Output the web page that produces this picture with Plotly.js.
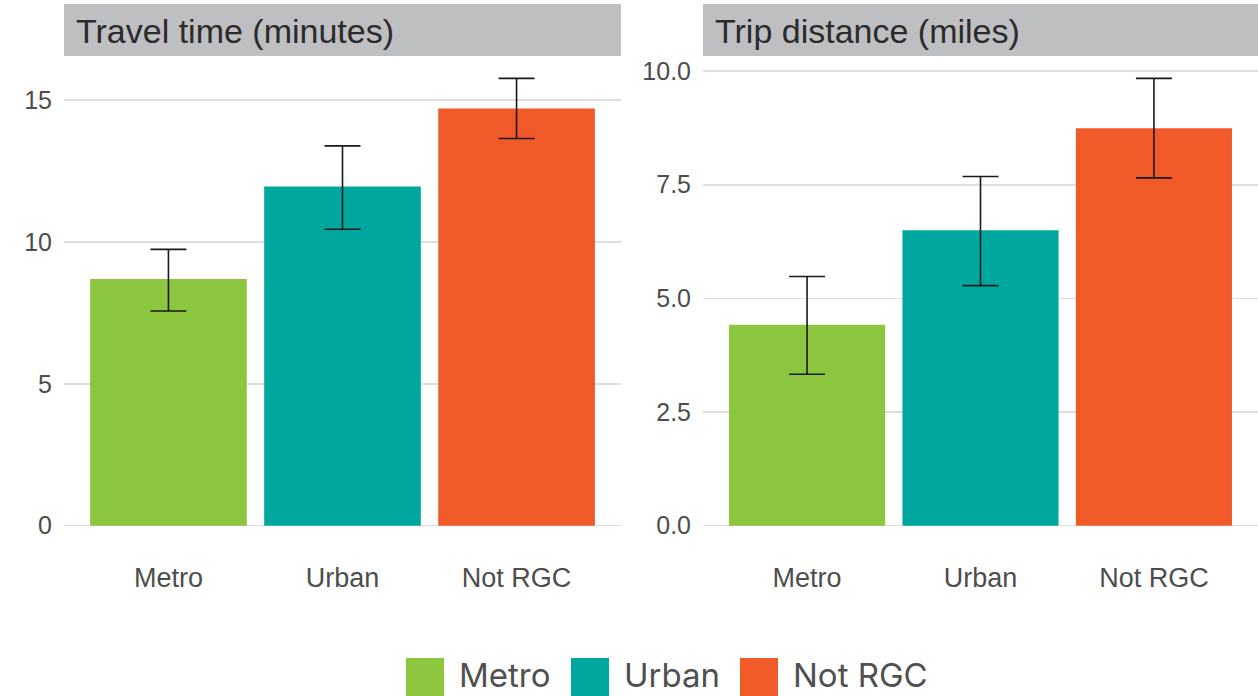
<!DOCTYPE html>
<html>
<head>
<meta charset="utf-8">
<script src="https://cdn.plot.ly/plotly-3.0.1.min.js"></script>
<style>
  html, body { margin: 0; padding: 0; background: #ffffff; }
  #chart { width: 1258px; height: 696px; }
</style>
</head>
<body>
<div id="chart"></div>
<script>
// ---- data ----
const categories = ["Metro", "Urban", "Not RGC"];
const colors = ["#8CC63F", "#00A79F", "#F05A29"];

const panelTitles = ["Travel time (minutes)", "Trip distance (miles)"];

const travelTime      = [8.70, 11.96, 14.71];
const travelTimeLow   = [7.57, 10.45, 13.65];
const travelTimeHigh  = [9.74, 13.39, 15.77];

const tripDistance     = [4.42, 6.50, 8.74];
const tripDistanceLow  = [3.33, 5.28, 7.65];
const tripDistanceHigh = [5.48, 7.68, 9.84];

const leftTicks  = [0, 5, 10, 15];
const rightTicks = [0, 2.5, 5, 7.5, 10];

// ---- helpers ----
const W = 1258, H = 696;
const px = x => x / W;
const py = y => 1 - y / H;

function barTrace(vals, lo, hi, xa, ya) {
  return {
    type: "bar",
    x: categories,
    y: vals,
    xaxis: xa, yaxis: ya,
    width: 0.9,
    marker: { color: colors, line: { width: 0 } },
    error_y: {
      type: "data",
      symmetric: false,
      array: hi.map((h, i) => h - vals[i]),
      arrayminus: vals.map((v, i) => v - lo[i]),
      color: "#1a1a1a",
      thickness: 1.6,
      width: 18
    },
    showlegend: false,
    hoverinfo: "x+y"
  };
}

const data = [
  barTrace(travelTime, travelTimeLow, travelTimeHigh, "x", "y"),
  barTrace(tripDistance, tripDistanceLow, tripDistanceHigh, "x2", "y2")
];

function yRange(lo, hi) {
  const pad = (hi - lo) * 0.05;
  return [lo - pad, hi + pad];
}

const FONT = "'Liberation Sans', Arial, sans-serif";
const tickFontX = { family: FONT, size: 27, color: "#4d4d4d" };
const tickFontY = { family: FONT, size: 25, color: "#4d4d4d" };

const plotTop = 56, plotBottom = 548;
const panels = [
  { x0: 64, x1: 621 },
  { x0: 703, x1: 1258 }
];

const xCommon = {
  type: "category",
  categoryorder: "array",
  categoryarray: categories,
  range: [-0.6, 2.6],
  showgrid: false,
  zeroline: false,
  showline: false,
  ticks: "",
  tickfont: tickFontX,
  ticklabelstandoff: 11,
  fixedrange: true
};
const yCommon = {
  showgrid: true,
  gridcolor: "#dedede",
  gridwidth: 1.6,
  zeroline: false,
  showline: false,
  ticks: "",
  tickfont: tickFontY,
  ticklabelstandoff: 11,
  fixedrange: true
};

const allHigh1 = Math.max(...travelTimeHigh);
const allHigh2 = Math.max(...tripDistanceHigh);

const layout = {
  width: W, height: H,
  margin: { l: 0, r: 0, t: 0, b: 0 },
  paper_bgcolor: "#ffffff",
  plot_bgcolor: "#ffffff",
  showlegend: false,
  bargap: 0.1,
  xaxis: Object.assign({}, xCommon, { domain: [px(panels[0].x0), px(panels[0].x1)], anchor: "y" }),
  yaxis: Object.assign({}, yCommon, {
    domain: [py(plotBottom), py(plotTop)], anchor: "x",
    range: yRange(0, allHigh1),
    tickvals: leftTicks, ticktext: leftTicks.map(String)
  }),
  xaxis2: Object.assign({}, xCommon, { domain: [px(panels[1].x0), px(panels[1].x1)], anchor: "y2" }),
  yaxis2: Object.assign({}, yCommon, {
    domain: [py(plotBottom), py(plotTop)], anchor: "x2",
    range: yRange(0, allHigh2),
    tickvals: rightTicks, ticktext: rightTicks.map(v => v.toFixed(1))
  }),
  shapes: [],
  annotations: []
};

// facet strips
panels.forEach((p, i) => {
  layout.shapes.push({
    type: "rect", xref: "paper", yref: "paper",
    x0: px(p.x0), x1: px(p.x1), y0: py(plotTop), y1: py(4),
    fillcolor: "#bebfc1", line: { width: 0 }, layer: "below"
  });
  layout.annotations.push({
    xref: "paper", yref: "paper",
    x: px(p.x0 + 10), y: py(31),
    xanchor: "left", yanchor: "middle",
    text: panelTitles[i], showarrow: false,
    font: { family: FONT, size: 34, color: "#2b2b2b" }
  });
});

// legend (keys + labels)
const legendKeyX = [406, 571, 740];
categories.forEach((c, i) => {
  const x0 = legendKeyX[i];
  layout.shapes.push({
    type: "rect", xref: "paper", yref: "paper",
    x0: px(x0), x1: px(x0 + 38), y0: py(696), y1: py(658),
    fillcolor: colors[i], line: { width: 0 }
  });
  layout.annotations.push({
    xref: "paper", yref: "paper",
    x: px(x0 + 51), y: py(675),
    xanchor: "left", yanchor: "middle",
    text: c, showarrow: false,
    font: { family: "Inter, Lato, sans-serif", size: 33, color: "#505050" }
  });
});

Plotly.newPlot("chart", data, layout, { displayModeBar: false, staticPlot: true });
</script>
</body>
</html>
